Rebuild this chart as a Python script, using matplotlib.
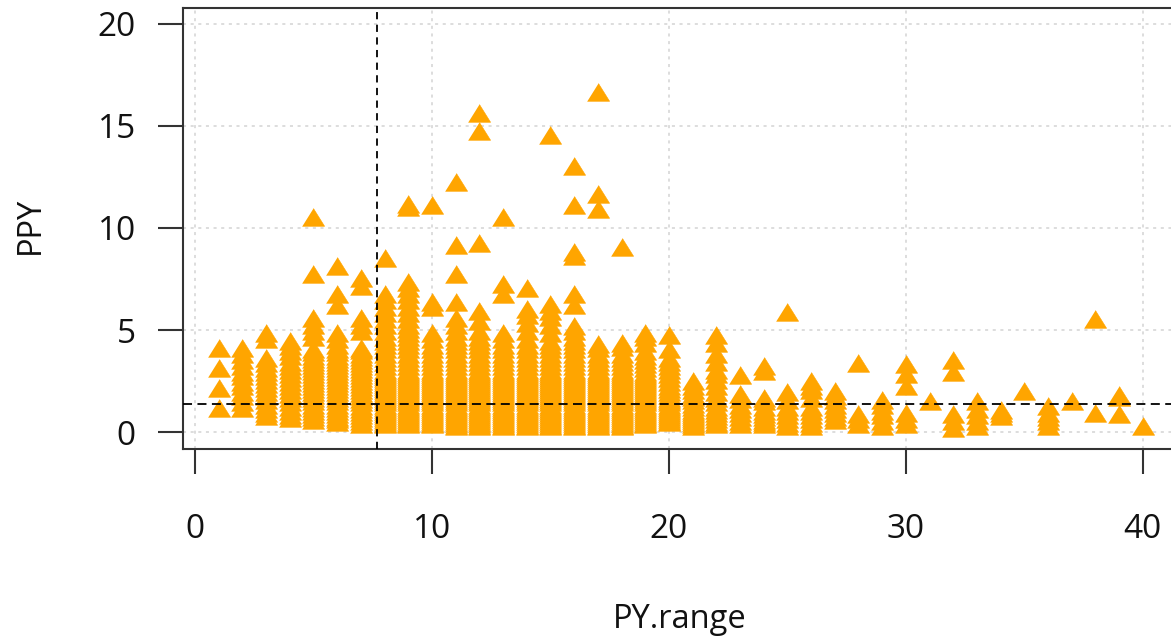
import matplotlib
matplotlib.use('Agg')
from matplotlib import pyplot as plt

plt.rcParams['font.family'] = ['Open Sans', 'DejaVu Sans']

# the lower parts of the big columns are packed solid, so these runs are shared
low_a = [0.25, 0.3, 0.4, 0.5, 0.6, 0.7, 0.8, 0.9, 1.0, 1.1, 1.2, 1.3, 1.4, 1.5, 1.6, 1.7,
         1.8, 1.9, 2.0, 2.1, 2.2, 2.3, 2.4, 2.5, 2.6, 2.7, 2.8, 2.9, 3.0]
low_b = [0.35, 0.4, 0.5, 0.6, 0.7, 0.8, 0.9, 1.0, 1.1, 1.2, 1.3, 1.4, 1.5, 1.6, 1.7,
         1.8, 1.9, 2.0, 2.1, 2.2, 2.3, 2.4, 2.5, 2.6, 2.7, 2.8, 2.9]

# PPY values, one list per PY.range
ppy = {
    1: [1.15, 2.1, 3.1, 4.09],
    2: [1.14, 1.4, 1.7, 1.9, 2.2, 2.4, 2.7, 2.9, 3.2, 3.5, 3.8, 4.09],
    3: [0.76, 0.9, 1.1, 1.3, 1.5, 1.7, 1.9, 2.1, 2.3, 2.5, 2.7, 2.9, 3.1, 3.35, 3.6, 4.5, 4.8],
    4: [0.65, 0.8, 1.0, 1.2, 1.4, 1.6, 1.8, 2.0, 2.2, 2.4, 2.6, 2.8, 3.0, 3.2, 3.4, 3.7,
        3.9, 4.15, 4.4],
    5: [0.55, 0.7, 0.85, 1.0, 1.15, 1.3, 1.45, 1.6, 1.75, 1.9, 2.05, 2.2, 2.35, 2.5, 2.65,
        2.8, 2.95, 3.1, 3.25, 3.4, 3.55, 3.7, 3.85, 4.0, 4.6, 4.9, 5.2, 5.56, 7.7, 10.5],
    6: [0.43, 0.6, 0.7, 0.85, 1.0, 1.15, 1.3, 1.45, 1.6, 1.75, 1.9, 2.05, 2.2, 2.35, 2.5,
        2.65, 2.8, 2.95, 3.1, 3.25, 3.4, 3.55, 3.7, 3.85, 4.0, 4.2, 4.5, 4.8,
        6.2, 6.7, 8.1],
    7: [0.35, 0.5, 0.65, 0.8, 0.95, 1.1, 1.25, 1.4, 1.55, 1.7, 1.85, 2.0, 2.15, 2.3, 2.45,
        2.6, 2.75, 2.9, 3.05, 3.2, 3.35, 3.5, 3.65, 3.8, 3.95, 4.09, 4.9, 5.2, 5.56,
        7.1, 7.5],
    8: low_b + [3.0, 3.2, 3.4, 3.6, 3.8, 4.0, 4.2, 4.4, 4.6, 4.9, 5.2, 5.5, 5.8, 6.1, 6.4,
                6.74, 8.5],
    9: low_b + [3.0, 3.2, 3.4, 3.6, 3.8, 4.0, 4.2, 4.4, 4.6, 4.8, 5.0, 5.2, 5.5, 5.8, 6.1,
                6.4, 6.7, 7.0, 7.3, 11.0, 11.15],
    10: low_b + [3.0, 3.2, 3.4, 3.6, 3.8, 4.0, 4.2, 4.5, 4.8, 6.1, 6.3, 11.1],
    11: low_a + [3.2, 3.4, 3.6, 3.8, 4.0, 4.2, 4.4, 4.6, 4.9, 5.2, 5.56, 6.3, 7.7, 9.1, 12.2],
    12: low_a + [3.2, 3.4, 3.6, 3.8, 4.0, 4.2, 4.4, 4.6, 4.9, 5.4, 5.86, 9.2, 14.7, 15.6],
    13: low_a + [3.2, 3.4, 3.6, 3.8, 4.0, 4.2, 4.5, 4.8, 6.7, 7.2, 10.5],
    14: low_a + [3.2, 3.4, 3.6, 3.8, 4.0, 4.2, 4.5, 4.9, 5.3, 5.7, 5.96, 7.0],
    15: low_a + [3.2, 3.4, 3.6, 3.8, 4.0, 4.2, 4.4, 4.8, 5.2, 5.6, 5.9, 6.25, 14.5],
    16: low_a + [3.2, 3.4, 3.6, 3.8, 4.0, 4.2, 4.4, 4.6, 4.9, 5.15, 6.2, 6.7, 8.6, 8.75,
                 11.1, 13.0],
    17: low_a + [3.2, 3.4, 3.6, 3.8, 4.05, 4.25, 10.9, 11.6, 16.6],
    18: low_a + [3.2, 3.4, 3.6, 3.8, 4.1, 4.3, 9.0],
    19: low_b + [3.1, 3.3, 3.5, 3.7, 3.9, 4.3, 4.6, 4.8],
    20: [0.43, 0.5, 0.6, 0.7, 0.8, 0.9, 1.0, 1.1, 1.2, 1.3, 1.4, 1.5, 1.6, 1.75, 1.9, 2.05,
         2.2, 2.4, 2.6, 2.8, 3.0, 3.2, 3.4, 3.6, 4.0, 4.7],
    21: [0.27, 0.35, 0.45, 0.55, 0.65, 0.75, 0.85, 0.95, 1.05, 1.2, 1.35, 1.5, 1.65, 1.8,
         2.0, 2.2, 2.43],
    22: [0.35, 0.45, 0.6, 0.75, 0.9, 1.05, 1.2, 1.4, 1.6, 1.9, 2.2, 2.5, 2.8, 3.0, 3.4,
         3.8, 4.3, 4.7],
    23: [0.35, 0.5, 0.7, 0.9, 1.1, 1.3, 1.55, 1.8, 2.74],
    24: [0.35, 0.45, 0.55, 0.7, 0.85, 1.0, 1.2, 1.45, 1.64, 2.94, 3.2],
    25: [0.27, 0.4, 0.6, 0.8, 1.0, 1.2, 1.5, 1.9, 5.85],
    26: [0.27, 0.4, 0.6, 0.8, 1.0, 1.2, 1.6, 2.0, 2.2, 2.43],
    27: [0.55, 0.7, 0.9, 1.1, 1.3, 1.5, 1.7, 1.94],
    28: [0.35, 0.6, 0.82, 3.33],
    29: [0.27, 0.5, 0.8, 1.0, 1.3, 1.5],
    30: [0.35, 0.6, 0.9, 2.2, 2.8, 3.3],
    31: [1.45],
    32: [0.17, 0.5, 0.82, 2.9, 3.5],
    33: [0.27, 0.5, 0.8, 1.1, 1.45],
    34: [0.76, 0.9, 1.04],
    35: [1.94],
    36: [0.27, 0.5, 0.7, 0.9, 1.23],
    37: [1.45],
    38: [0.9, 5.47],
    39: [0.84, 1.66, 1.76],
    40: [0.25],
}

x_ticks = [0, 10, 20, 30, 40]
y_ticks = [0, 5, 10, 15, 20]
v_cut = 7.67
h_cut = 1.37

fig = plt.figure(figsize=(11.71, 6.38), dpi=100)
ax = fig.add_axes([183/1171, 1-449/638, 993/1171, 441/638])

pts_x = [k for k, v in ppy.items() for _ in v]
pts_y = [y for v in ppy.values() for y in v]

# flatter triangle than the stock ^ marker, sitting a little high like R's pch 17
tri = [(-1, -0.7), (1, -0.7), (0, 0.9)]
ax.plot(pts_x, pts_y, linestyle='none', marker=tri, markersize=16,
        markerfacecolor='orange', markeredgecolor='orange', markeredgewidth=0.4, zorder=3)

ax.set_xlim(-0.506, 41.4)
ax.set_ylim(-0.83, 20.78)
ax.set_xticks(x_ticks)
ax.set_yticks(y_ticks)
ax.grid(True, color='#d3d3d3', linestyle=(0, (2, 3)), linewidth=1.1, zorder=1)
ax.set_axisbelow(True)

ax.axvline(v_cut, color='black', linestyle=(0, (4, 3)), linewidth=1.3, zorder=4)
ax.axhline(h_cut, color='black', linestyle=(0, (5, 3)), linewidth=1.3, zorder=4)

for s in ax.spines.values():
    s.set_linewidth(1.5)
    s.set_color('#333333')

ax.tick_params(axis='x', length=18, width=1.5, color='#333333', labelsize=24, labelcolor='#111111', pad=28)
ax.tick_params(axis='y', length=18, width=1.5, color='#333333', labelsize=24, labelcolor='#111111', pad=16)

fig.text(680/1171, 1-620/638, 'PY.range', ha='center', va='center', fontsize=23.5, color='#111111')
fig.text(30/1171, 1-225/638, 'PPY', ha='center', va='center', rotation=90, fontsize=23.5, color='#111111')

fig.savefig('out.png', dpi=100)
